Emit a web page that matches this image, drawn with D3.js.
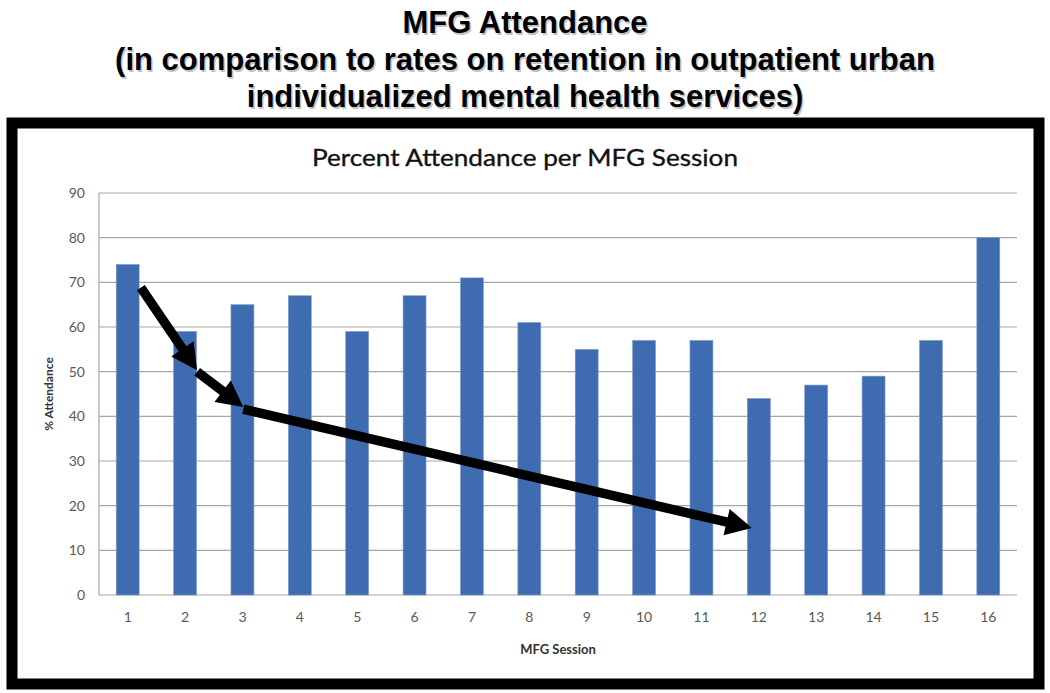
<!DOCTYPE html>
<html lang="en">
  <head>
    <meta charset="utf-8" />
    <title>MFG Attendance</title>
    <script src="https://d3js.org/d3.v7.js"></script>
    <style>
      body { margin: 0; background: #fff; }
      text { font-family: Lato, "Open Sans", sans-serif; }
    </style>
  </head>
  <body>
    <div id="graph"></div>
    <script>

    // data
    var sessions = ["1","2","3","4","5","6","7","8","9","10","11","12","13","14","15","16"];
    var attendance = [74, 59, 65, 67, 59, 67, 71, 61, 55, 57, 57, 44, 47, 49, 57, 80];
    var yTicks = [0, 10, 20, 30, 40, 50, 60, 70, 80, 90];
    var titleLines = [
      "MFG Attendance",
      "(in comparison to rates on retention in outpatient urban",
      "individualized mental health services)"
    ];
    // arrows drawn over the chart, in [session, percent] coordinates
    var arrows = [
      [[1.23, 68.8], [2.21, 50.3]],
      [[2.21, 50.0], [3.015, 42.1]],
      [[3.015, 41.6], [11.88, 15.0]]
    ];

    var w = 1050, h = 693;
    var margin = {top: 193, right: 33, bottom: 98, left: 99};
    var innerWidth = w - margin.left - margin.right;
    var innerHeight = h - margin.top - margin.bottom;

    var svg = d3.select("#graph")
      .append("svg")
        .attr("width", w)
        .attr("height", h);

    // big title with a faint shadow
    titleLines.forEach(function (t, i) {
      var yy = 33 + i * 37;
      svg.append("text")
        .attr("x", 526.5).attr("y", yy + 1.5)
        .attr("text-anchor", "middle")
        .style("font-family", "'Liberation Sans', Arial, sans-serif")
        .style("font-weight", "bold")
        .style("font-size", "31px")
        .attr("fill", "#c4c4c4")
        .text(t);
      svg.append("text")
        .attr("x", 525).attr("y", yy)
        .attr("text-anchor", "middle")
        .style("font-family", "'Liberation Sans', Arial, sans-serif")
        .style("font-weight", "bold")
        .style("font-size", "31px")
        .attr("fill", "#000")
        .text(t);
    });

    // black frame
    svg.append("rect")
      .attr("x", 12).attr("y", 123)
      .attr("width", 1027).attr("height", 561)
      .attr("fill", "none")
      .attr("stroke", "#000")
      .attr("stroke-width", 11);

    svg.append("text")
      .attr("x", 525).attr("y", 166)
      .attr("text-anchor", "middle")
      .attr("textLength", 426)
      .attr("lengthAdjust", "spacingAndGlyphs")
      .style("font-size", "24px")
      .attr("fill", "#111")
      .attr("stroke", "#111")
      .attr("stroke-width", 0.35)
      .text("Percent Attendance per MFG Session");

    var g = svg.append("g")
      .attr("transform", `translate(${margin.left},${margin.top})`);

    // scales
    var x = d3.scaleBand()
      .domain(sessions)
      .range([0, innerWidth])
      .paddingInner(0.6)
      .paddingOuter(0.3);

    var y = d3.scaleLinear()
      .domain([0, 90])
      .range([innerHeight, 0]);

    var step = innerWidth / sessions.length;
    var xPos = d3.scaleLinear()
      .domain([1, 16])
      .range([step / 2, innerWidth - step / 2]);

    // gridlines
    g.append("g")
      .selectAll("line")
      .data(yTicks)
      .join("line")
        .attr("x1", 0).attr("x2", innerWidth)
        .attr("y1", d => y(d)).attr("y2", d => y(d))
        .attr("stroke", "#a6a6a6")
        .attr("stroke-width", 1.2);

    g.append("line")
      .attr("x1", 0).attr("x2", 0)
      .attr("y1", 0).attr("y2", innerHeight)
      .attr("stroke", "#a6a6a6")
      .attr("stroke-width", 1.2);

    // axes
    var yAxis = g.append("g")
      .call(d3.axisLeft(y).tickValues(yTicks).tickSize(0).tickPadding(14));
    yAxis.select(".domain").remove();
    yAxis.selectAll("text")
      .style("font-family", "Lato, sans-serif")
      .style("font-size", "14px")
      .attr("fill", "#595959");

    var xAxis = g.append("g")
      .attr("transform", `translate(0,${innerHeight})`)
      .call(d3.axisBottom(x).tickSize(0).tickPadding(17));
    xAxis.select(".domain").remove();
    xAxis.selectAll("text")
      .style("font-family", "Lato, sans-serif")
      .style("font-size", "14px")
      .attr("fill", "#595959");

    // bars
    g.selectAll("rect.bar")
      .data(attendance)
      .join("rect")
        .attr("class", "bar")
        .attr("x", (d, i) => x(sessions[i]))
        .attr("y", d => y(d))
        .attr("width", x.bandwidth())
        .attr("height", d => innerHeight - y(d))
        .attr("fill", "#3f6cb0")
        .attr("stroke", "#7f9cc8")
        .attr("stroke-width", 0.6);

    // axis titles
    svg.append("text")
      .attr("transform", "translate(53,394) rotate(-90)")
      .attr("text-anchor", "middle")
      .style("font-size", "12px")
      .style("font-weight", "bold")
      .attr("fill", "#333")
      .text("% Attendance");

    svg.append("text")
      .attr("x", 558).attr("y", 654)
      .attr("text-anchor", "middle")
      .style("font-size", "13px")
      .style("font-weight", "bold")
      .attr("fill", "#333")
      .text("MFG Session");

    // arrows
    var headLen = 26, headW = 27;
    arrows.forEach(function (a) {
      var x0 = xPos(a[0][0]), y0 = y(a[0][1]);
      var x1 = xPos(a[1][0]), y1 = y(a[1][1]);
      var dx = x1 - x0, dy = y1 - y0;
      var len = Math.sqrt(dx * dx + dy * dy);
      var ux = dx / len, uy = dy / len;
      var bx = x1 - ux * headLen, by = y1 - uy * headLen;
      g.append("line")
        .attr("x1", x0).attr("y1", y0)
        .attr("x2", bx + ux * 4).attr("y2", by + uy * 4)
        .attr("stroke", "#000")
        .attr("stroke-width", 9.5);
      g.append("path")
        .attr("d", d3.line()([
          [x1, y1],
          [bx - uy * headW / 2, by + ux * headW / 2],
          [bx + uy * headW / 2, by - ux * headW / 2]
        ]) + "Z")
        .attr("fill", "#000");
    });

    </script>
  </body>
</html>
